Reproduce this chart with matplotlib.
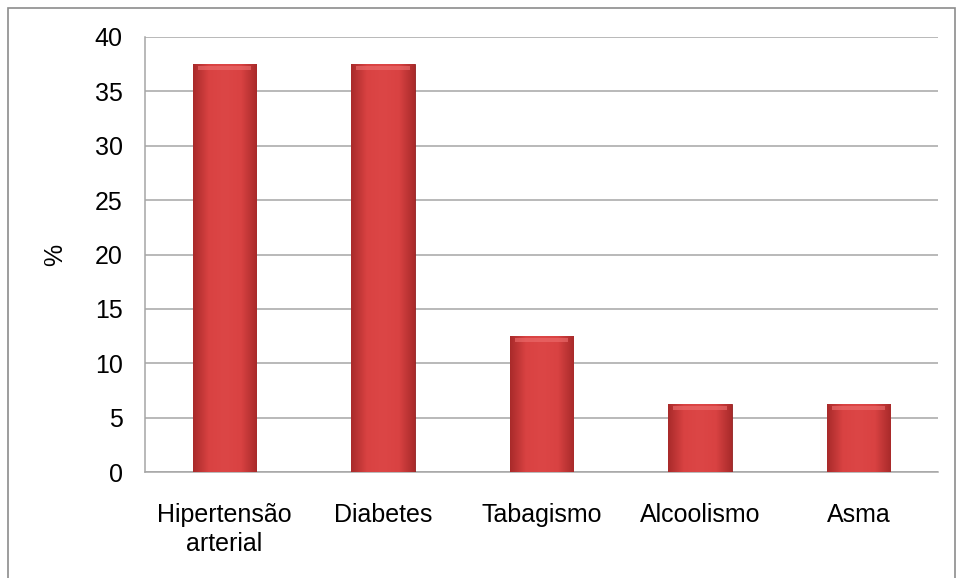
import matplotlib
matplotlib.use("Agg")
import matplotlib.pyplot as plt
import numpy as np
from matplotlib.patches import Rectangle
from matplotlib.colors import LinearSegmentedColormap

plt.rcParams['font.family'] = ['Liberation Sans', 'DejaVu Sans']

categories = ["Hipertensão\narterial", "Diabetes", "Tabagismo", "Alcoolismo", "Asma"]
values = [37.5, 37.5, 12.5, 6.25, 6.25]
yticks = [0, 5, 10, 15, 20, 25, 30, 35, 40]

fig = plt.figure(figsize=(9.56, 5.78), dpi=100)
# outer frame
fig.patches.append(Rectangle((8/956, -0.01), (955-8)/956, 1 - 8/578 + 0.01,
                             transform=fig.transFigure, fill=False,
                             edgecolor='#8c8c8c', linewidth=1.2))

ax = fig.add_axes([145/956, 1 - 472/578, (938 - 145)/956, (472 - 37)/578])
x = np.arange(len(categories))
bars = ax.bar(x, values, width=0.4, color='#d23c3c', edgecolor='#8e1f1f',
              linewidth=0.6, zorder=3)

cmap = LinearSegmentedColormap.from_list('bar', ['#a82a2a', '#d94242', '#dc4646', '#d94242', '#a82a2a'])
grad = np.linspace(0, 1, 256).reshape(1, -1)
for b in bars:
    x0, y0 = b.get_x(), b.get_y()
    w, h = b.get_width(), b.get_height()
    im = ax.imshow(grad, extent=(x0, x0 + w, y0, y0 + h), aspect='auto',
                   cmap=cmap, zorder=3.5, interpolation='bicubic')
    im.set_clip_path(b)
    # top bevel highlight
    ax.add_patch(Rectangle((x0 + w*0.08, y0 + h - 0.55), w*0.84, 0.4,
                           facecolor='#ee7070', edgecolor='none', alpha=0.6, zorder=4))

ax.set_xlim(-0.5, len(categories) - 0.5)
ax.set_ylim(0, 40)
ax.set_yticks(yticks)
ax.set_yticklabels([str(t) for t in yticks], fontsize=18)
ax.set_xticks(x)
ax.set_xticklabels(categories, fontsize=18, linespacing=1.3)
ax.tick_params(axis='both', length=0)
ax.tick_params(axis='y', pad=16)
ax.tick_params(axis='x', pad=22)
ax.yaxis.grid(True, color='#a6a6a6', linewidth=1.1, zorder=0)
ax.set_axisbelow(True)
for s in ['top', 'right']:
    ax.spines[s].set_visible(False)
for s in ['bottom', 'left']:
    ax.spines[s].set_color('#a6a6a6')
    ax.spines[s].set_linewidth(1.1)
ax.set_ylabel('%', fontsize=18, labelpad=20)

fig.savefig('out.png', dpi=100)
